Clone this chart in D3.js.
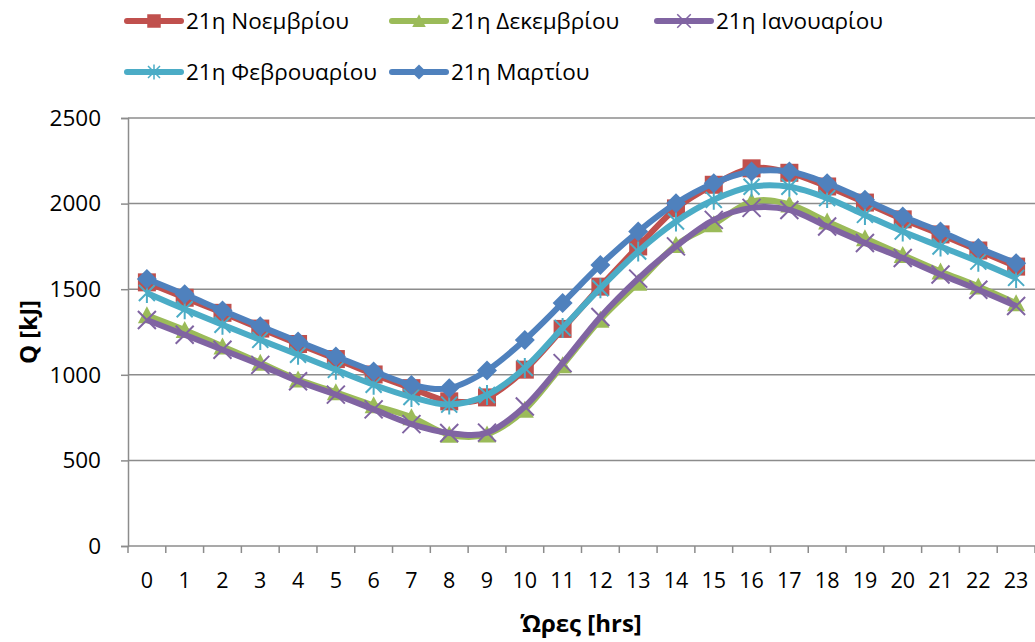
<!DOCTYPE html>
<html>
<head>
<meta charset="utf-8">
<script src="https://cdn.jsdelivr.net/npm/d3@7"></script>
<style>
  body { margin: 0; background: #fff; }
  svg text { font-family: "Open Sans", "DejaVu Sans", sans-serif; fill: #000; }
</style>
</head>
<body>
<svg id="chart" width="1035" height="642"></svg>
<script>
var hours = d3.range(0, 24).map(String)
var yTicks = [0, 500, 1000, 1500, 2000, 2500]

var seriesNames = ['21η Νοεμβρίου', '21η Δεκεμβρίου', '21η Ιανουαρίου', '21η Φεβρουαρίου', '21η Μαρτίου']
var seriesColors = ['#C0504D', '#9BBB59', '#8064A2', '#4BACC6', '#4F81BD']
var seriesMarkers = ['square', 'triangle', 'x', 'star', 'diamond']

var november = [1540, 1450, 1362, 1270, 1180, 1092, 1002, 922, 845, 868, 1030, 1268, 1515, 1750, 1972, 2110, 2206, 2180, 2100, 2006, 1908, 1820, 1726, 1632]
var december = [1348, 1262, 1166, 1070, 972, 898, 822, 752, 650, 652, 796, 1056, 1322, 1538, 1758, 1880, 2012, 1995, 1895, 1798, 1700, 1604, 1516, 1418]
var january = [1320, 1234, 1146, 1058, 962, 884, 798, 712, 660, 662, 815, 1068, 1338, 1562, 1750, 1905, 1975, 1963, 1866, 1770, 1682, 1586, 1497, 1402]
var february = [1478, 1383, 1292, 1204, 1117, 1029, 942, 870, 826, 882, 1040, 1274, 1506, 1720, 1895, 2022, 2098, 2098, 2032, 1934, 1837, 1749, 1661, 1566]
var march = [1560, 1470, 1375, 1283, 1194, 1107, 1020, 941, 922, 1025, 1204, 1420, 1642, 1837, 2002, 2119, 2187, 2187, 2119, 2022, 1924, 1837, 1740, 1652]

var allSeries = [november, december, january, february, march]

var dims = { left: 128, right: 1035, top: 118, bottom: 546 }

var svg = d3.select('#chart')

var xScale = d3.scaleBand()
  .domain(hours)
  .range([dims.left, dims.right])
var yScale = d3.scaleLinear()
  .domain([0, 2500])
  .range([dims.bottom, dims.top])

function xPos(i) { return xScale(hours[i]) + xScale.bandwidth() / 2 }

// gridlines
svg.append('g').selectAll('line')
  .data(yTicks.filter(d => d > 0))
  .enter().append('line')
  .attr('x1', dims.left).attr('x2', dims.right)
  .attr('y1', d => yScale(d)).attr('y2', d => yScale(d))
  .attr('stroke', '#8c8c8c').attr('stroke-width', 1.5)

// y axis
var yAxis = d3.axisLeft(yScale).tickValues(yTicks).tickFormat(d3.format('d')).tickSize(7).tickPadding(20)
var gy = svg.append('g').attr('transform', 'translate(' + dims.left + ',0)').call(yAxis)
gy.select('.domain').attr('stroke', '#8c8c8c').attr('stroke-width', 1.5)
gy.selectAll('.tick line').attr('stroke', '#8c8c8c').attr('stroke-width', 1.5)
gy.selectAll('.tick text').style('font-size', '22.5px')

// x axis
var gx = svg.append('g').attr('transform', 'translate(0,' + dims.bottom + ')')
gx.append('line')
  .attr('x1', dims.left).attr('x2', dims.right)
  .attr('stroke', '#8c8c8c').attr('stroke-width', 1.5)
gx.selectAll('.tk')
  .data(hours.concat(['end']))
  .enter().append('line')
  .attr('x1', (d, i) => dims.left + i * xScale.bandwidth())
  .attr('x2', (d, i) => dims.left + i * xScale.bandwidth())
  .attr('y1', 0).attr('y2', 7)
  .attr('stroke', '#8c8c8c').attr('stroke-width', 1.5)
gx.selectAll('text')
  .data(hours)
  .enter().append('text')
  .attr('x', (d, i) => xPos(i))
  .attr('y', 42)
  .attr('text-anchor', 'middle')
  .style('font-size', '21.5px')
  .text(d => d)

// axis titles
svg.append('text')
  .attr('transform', 'translate(37,332) rotate(-90)')
  .attr('text-anchor', 'middle')
  .style('font-size', '24px').style('font-weight', 'bold')
  .text('Q [kJ]')
svg.append('text')
  .attr('x', 581).attr('y', 632)
  .attr('text-anchor', 'middle')
  .style('font-size', '24px').style('font-weight', 'bold')
  .text('Ώρες [hrs]')

function drawMarker(g, type, color, k) {
  if (type == 'square') {
    g.append('rect').attr('x', -9 * k).attr('y', -9 * k).attr('width', 18 * k).attr('height', 18 * k).attr('fill', color)
  } else if (type == 'diamond') {
    g.append('path').attr('d', 'M0,-10L10,0L0,10L-10,0Z').attr('transform', 'scale(' + k + ')').attr('fill', color)
  } else if (type == 'triangle') {
    g.append('path').attr('d', 'M0,-9L9,8L-9,8Z').attr('transform', 'scale(' + k + ')').attr('fill', color)
  } else if (type == 'x') {
    g.append('path').attr('d', 'M-9,-9L9,9M-9,9L9,-9').attr('transform', 'scale(' + k + ')').attr('stroke', color).attr('stroke-width', 2)
  } else if (type == 'star') {
    g.append('path').attr('d', 'M-8,-8L8,8M-8,8L8,-8M0,-10L0,10').attr('transform', 'scale(' + k + ')').attr('stroke', color).attr('stroke-width', 2)
  }
}

var line = d3.line()
  .x((d, i) => xPos(i))
  .y(d => yScale(d))
  .curve(d3.curveCardinal.tension(0))

allSeries.forEach(function (values, s) {
  var g = svg.append('g')
  g.append('path')
    .datum(values)
    .attr('d', line)
    .attr('fill', 'none')
    .attr('stroke', seriesColors[s])
    .attr('stroke-width', 6)
    .attr('stroke-linejoin', 'round')
  values.forEach(function (v, i) {
    var m = g.append('g').attr('transform', 'translate(' + xPos(i) + ',' + yScale(v) + ')')
    drawMarker(m, seriesMarkers[s], seriesColors[s], 1)
  })
})

// legend
var legendPos = [[127, 21], [392, 21], [657, 21], [127, 72], [392, 72]]
seriesNames.forEach(function (name, s) {
  var lg = svg.append('g').attr('transform', 'translate(' + legendPos[s][0] + ',' + legendPos[s][1] + ')')
  lg.append('line').attr('x1', 0).attr('x2', 54).attr('y1', 0).attr('y2', 0)
    .attr('stroke', seriesColors[s]).attr('stroke-width', 6).attr('stroke-linecap', 'round')
  drawMarker(lg.append('g').attr('transform', 'translate(27,0)'), seriesMarkers[s], seriesColors[s], 0.75)
  lg.append('text').attr('x', 59).attr('y', 8).style('font-size', '22.5px').text(name)
})
</script>
</body>
</html>
